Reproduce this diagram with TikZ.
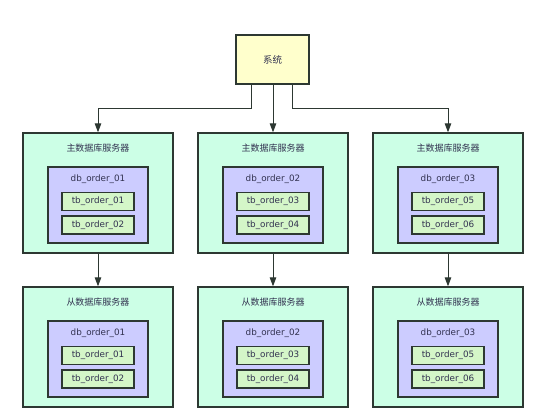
\documentclass[tikz,border=0pt]{standalone}
\usepackage{fontspec}
\setmainfont{DejaVu Sans}
\newfontfamily\cjk{Noto Sans CJK SC}
\usetikzlibrary{arrows.meta}
\definecolor{sysfill}{RGB}{255,255,204}
\definecolor{srvfill}{RGB}{204,255,230}
\definecolor{dbfill}{RGB}{204,204,255}
\definecolor{tbfill}{RGB}{212,246,200}
\definecolor{edgecol}{RGB}{45,56,50}
\definecolor{txtcol}{RGB}{50,50,80}
\tikzset{
    sysbox/.style={draw=edgecol,fill=sysfill,line width=1.2pt,minimum width=73pt,minimum height=49pt,inner sep=0pt,font=\cjk\fontsize{9.5}{10}\selectfont,text=txtcol},
    srvbox/.style={draw=edgecol,fill=srvfill,line width=1.3pt,minimum width=150pt,minimum height=120pt,inner sep=0pt},
    dbbox/.style={draw=edgecol,fill=dbfill,line width=1.3pt,minimum width=100pt,minimum height=76pt,inner sep=0pt},
    tbbox/.style={draw=edgecol,fill=tbfill,line width=1.3pt,minimum width=72pt,minimum height=18pt,inner sep=0pt,font=\fontsize{8.8}{10}\selectfont,text=txtcol},
    srvname/.style={font=\cjk\fontsize{9}{10}\selectfont,text=txtcol},
    dbname/.style={font=\fontsize{8.8}{10}\selectfont,text=txtcol},
    link/.style={draw=edgecol,line width=1pt,-{Triangle[width=6.5pt,length=9pt]}},
}
\begin{document}
\begin{tikzpicture}[x=1pt,y=-1pt]
    \useasboundingbox[fill=white] (0,0) rectangle (555,410);
    \node[sysbox] (sys) at (272.5,59.5) {系统};
    % master row
    \node[srvbox] (m1) at (98,193) {};
    \node[srvname] (m1t) at (98,148) {主数据库服务器};
    \node[dbbox] (m1d) at (98,205) {};
    \node[dbname] (m1n) at (98,179) {db\_order\_01};
    \node[tbbox] (m1a) at (98,201.5) {tb\_order\_01};
    \node[tbbox] (m1b) at (98,225) {tb\_order\_02};

    \node[srvbox] (m2) at (273,193) {};
    \node[srvname] (m2t) at (273,148) {主数据库服务器};
    \node[dbbox] (m2d) at (273,205) {};
    \node[dbname] (m2n) at (273,179) {db\_order\_02};
    \node[tbbox] (m2a) at (273,201.5) {tb\_order\_03};
    \node[tbbox] (m2b) at (273,225) {tb\_order\_04};

    \node[srvbox] (m3) at (448,193) {};
    \node[srvname] (m3t) at (448,148) {主数据库服务器};
    \node[dbbox] (m3d) at (448,205) {};
    \node[dbname] (m3n) at (448,179) {db\_order\_03};
    \node[tbbox] (m3a) at (448,201.5) {tb\_order\_05};
    \node[tbbox] (m3b) at (448,225) {tb\_order\_06};
    % slave row
    \node[srvbox] (s1) at (98,347) {};
    \node[srvname] (s1t) at (98,302) {从数据库服务器};
    \node[dbbox] (s1d) at (98,359) {};
    \node[dbname] (s1n) at (98,333) {db\_order\_01};
    \node[tbbox] (s1a) at (98,355.5) {tb\_order\_01};
    \node[tbbox] (s1b) at (98,379) {tb\_order\_02};

    \node[srvbox] (s2) at (273,347) {};
    \node[srvname] (s2t) at (273,302) {从数据库服务器};
    \node[dbbox] (s2d) at (273,359) {};
    \node[dbname] (s2n) at (273,333) {db\_order\_02};
    \node[tbbox] (s2a) at (273,355.5) {tb\_order\_03};
    \node[tbbox] (s2b) at (273,379) {tb\_order\_04};

    \node[srvbox] (s3) at (448,347) {};
    \node[srvname] (s3t) at (448,302) {从数据库服务器};
    \node[dbbox] (s3d) at (448,359) {};
    \node[dbname] (s3n) at (448,333) {db\_order\_03};
    \node[tbbox] (s3a) at (448,355.5) {tb\_order\_05};
    \node[tbbox] (s3b) at (448,379) {tb\_order\_06};
    % links
    \draw[link] ([xshift=-21.5pt]sys.south) -- ++(0,24) -| (m1.north);
    \draw[link] (sys.south -| m2.north) -- (m2.north);
    \draw[link] ([xshift=19.5pt]sys.south) -- ++(0,24) -| (m3.north);
    \draw[link] (m1.south) -- (s1.north);
    \draw[link] (m2.south) -- (s2.north);
    \draw[link] (m3.south) -- (s3.north);
\end{tikzpicture}
\end{document}
